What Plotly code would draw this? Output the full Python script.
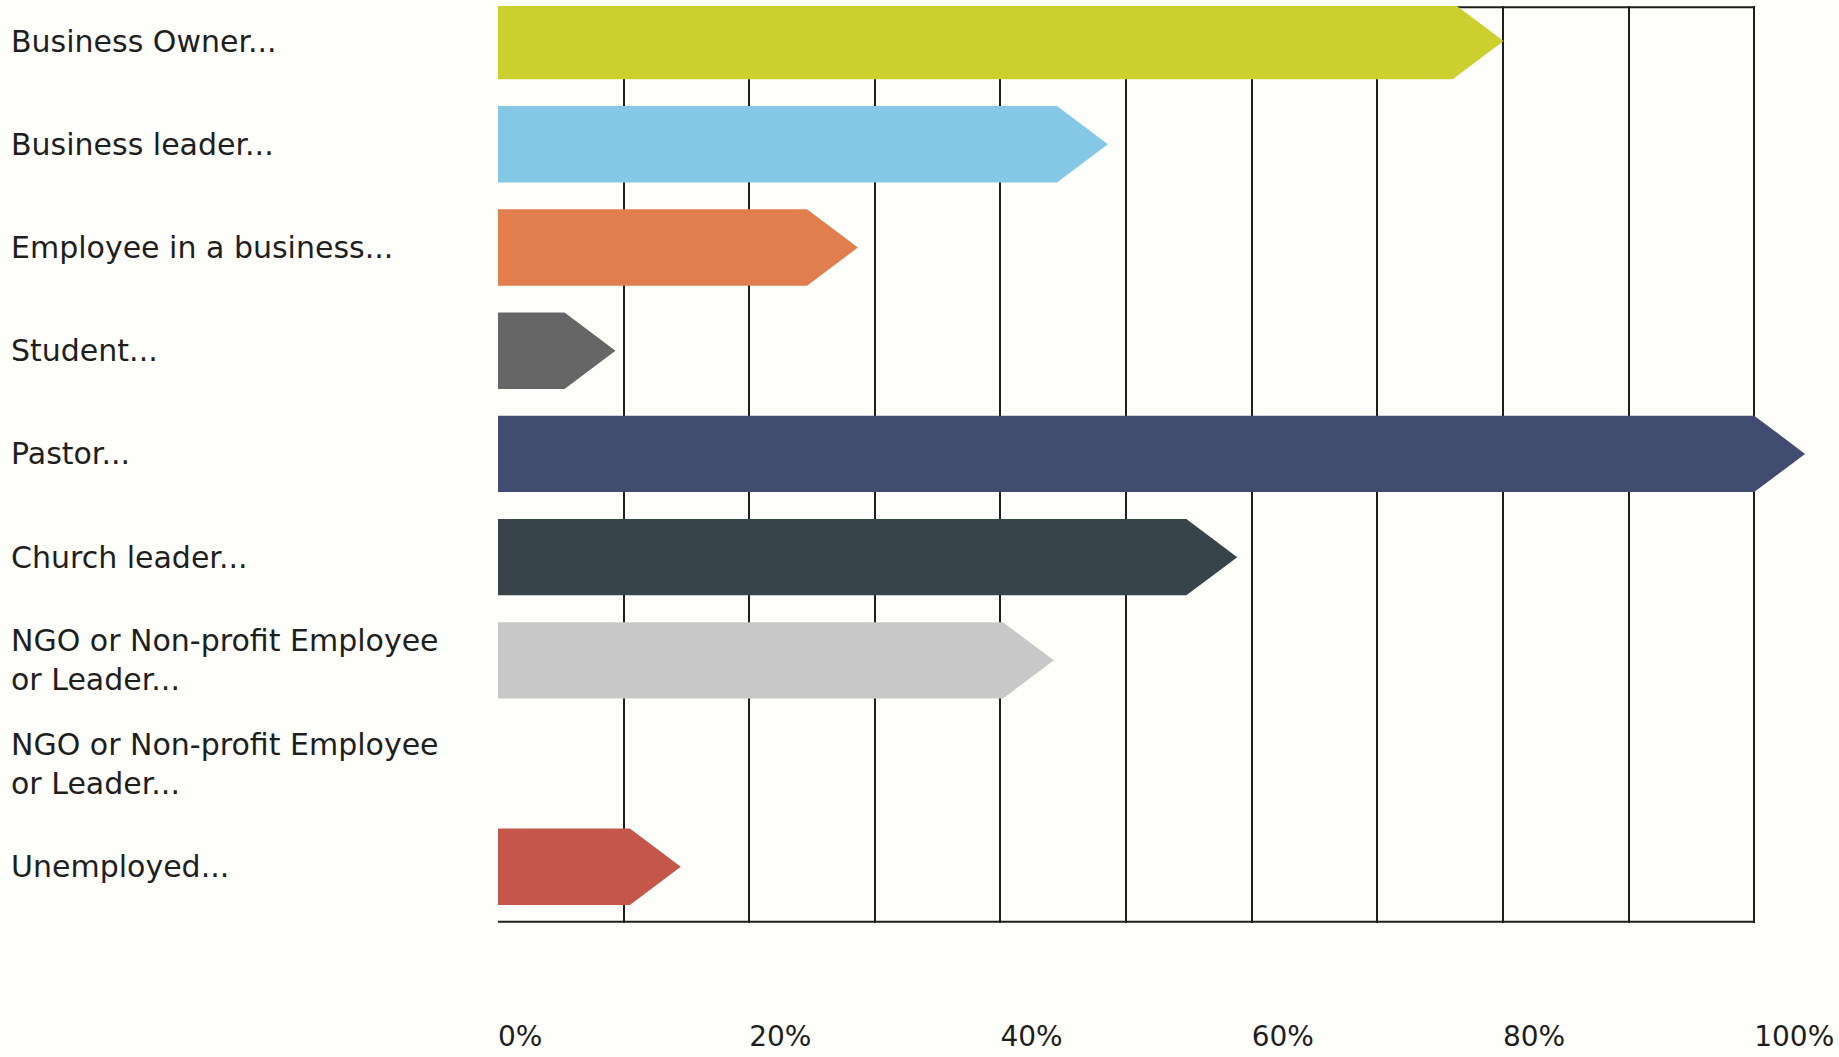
import plotly.graph_objects as go

# Respondent roles and share of respondents (%)
roles = [
    "Business Owner...",
    "Business leader...",
    "Employee in a business...",
    "Student...",
    "Pastor...",
    "Church leader...",
    "NGO or Non-profit Employee<br>or Leader...",
    "NGO or Non-profit Employee<br>or Leader...",
    "Unemployed...",
]
shares = [76.0, 44.5, 24.6, 5.3, 100.0, 54.8, 40.2, 0.0, 10.5]
colors = [
    "#cbd02e", "#85c8e6", "#e07e4e", "#666666", "#424c70",
    "#37454a", "#c8c8c8", "#c8c8c8", "#c5574a",
]
tick_values = [0, 20, 40, 60, 80, 100]
tick_labels = ["0%", "20%", "40%", "60%", "80%", "100%"]

HALF = 0.37      # half bar thickness, in row units
TIP = 4.05       # arrow-head length, in % units
BG = "#fefefb"
INK = "#1e1e1e"
FONT = "DejaVu Sans"

fig = go.Figure()

# Each bar is a pentagon: a rectangle up to the value with a chevron tip
for i, (v, c) in enumerate(zip(shares, colors)):
    if v <= 0:
        continue
    xs = [0, v, v + TIP, v, 0, 0]
    ys = [i - HALF, i - HALF, i, i + HALF, i + HALF, i - HALF]
    fig.add_trace(go.Scatter(
        x=xs, y=ys, mode="lines", fill="toself",
        fillcolor=c, line=dict(width=0, color=c),
        hoverinfo="skip", showlegend=False,
    ))

y_top, y_bot = -0.34, 8.545

# Frame lines along top and bottom of the 0–100% region
for yv in (y_top + 0.012, y_bot - 0.012):
    fig.add_shape(type="line", xref="x", yref="y", x0=0, x1=100, y0=yv, y1=yv,
                  line=dict(color=INK, width=2), layer="below")

# Category labels, left aligned at the page edge
for i, r in enumerate(roles):
    fig.add_annotation(
        text=r, xref="paper", yref="y", x=-0.371, y=i,
        xanchor="left", yanchor="middle", align="left", showarrow=False,
        font=dict(family=FONT, size=30, color=INK),
    )

fig.update_xaxes(
    range=[0, 105], showgrid=True, gridcolor=INK, gridwidth=2,
    tickvals=tick_values, ticktext=tick_labels,
    ticklabelposition="outside right", ticklabelstandoff=94,
    tickfont=dict(family=FONT, size=28, color=INK),
    minor=dict(tickvals=list(range(0, 101, 10)), showgrid=True,
               gridcolor=INK, gridwidth=2),
    zeroline=False, showline=False, ticks="", automargin=False,
)
fig.update_yaxes(
    range=[y_bot, y_top], showgrid=False, zeroline=False,
    showticklabels=False, showline=False, ticks="", automargin=False,
)
fig.update_layout(
    width=1839, height=1057,
    margin=dict(l=498, r=22, t=6, b=134),
    paper_bgcolor=BG, plot_bgcolor=BG,
    showlegend=False,
)

fig.write_html("out.html")
